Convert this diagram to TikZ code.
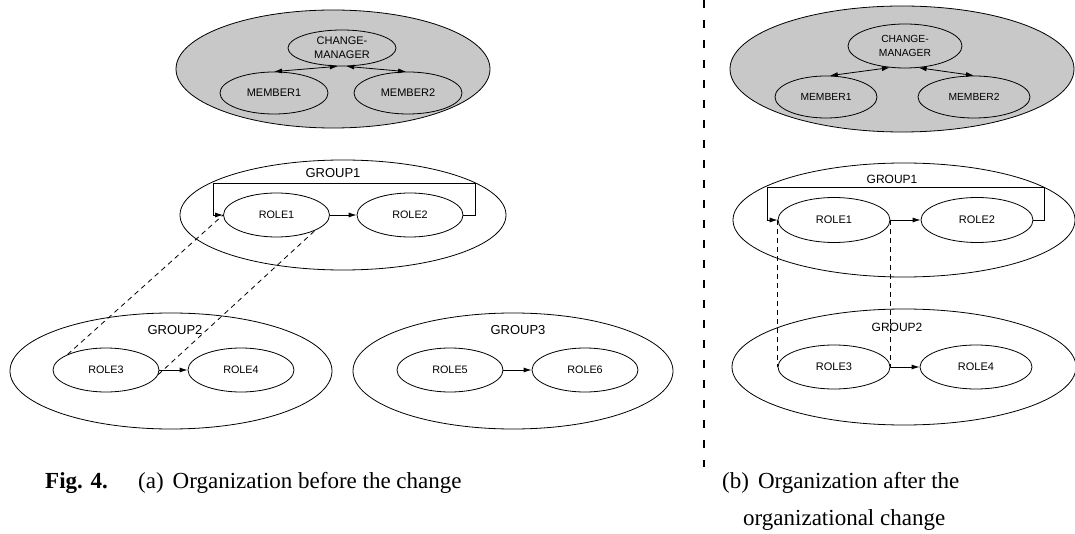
\documentclass[tikz,border=0pt]{standalone}
\usepackage{fontspec}
\setmainfont{Liberation Serif}
\newfontfamily\diag{Liberation Sans}
\usetikzlibrary{shapes.geometric,arrows.meta}
\definecolor{grpfill}{RGB}{200,200,200}
\tikzset{
  el/.style={draw, ellipse, inner sep=0pt, line width=0.8pt, align=center},
  gray el/.style={el, fill=grpfill},
  role/.style={el, minimum width=106pt, minimum height=44pt, font=\diag\fontsize{10.8}{12}\selectfont},
  roleR/.style={el, minimum width=112pt, minimum height=44pt, font=\diag\fontsize{11}{12}\selectfont},
  grp/.style={el},
  glabL/.style={font=\diag\fontsize{13}{15}\selectfont, inner sep=0pt},
  glabR/.style={font=\diag\fontsize{12}{14}\selectfont, inner sep=0pt},
  arr/.style={line width=0.8pt, -{Latex[length=8pt,width=5pt]}},
  darr/.style={line width=0.8pt, {Latex[length=8pt,width=5pt]}-{Latex[length=8pt,width=5pt]}},
  dline/.style={line width=0.8pt, dash pattern=on 5pt off 4pt},
  divider/.style={line width=1.8pt, dash pattern=on 8pt off 12pt},
  captext/.style={font=\fontsize{23}{27}\selectfont, inner sep=0pt, anchor=base west}
}
\begin{document}
\begin{tikzpicture}[x=1pt,y=-1pt]
\useasboundingbox (0,0) rectangle (1075,534);

% ================= LEFT PANEL =================
\node[gray el, minimum width=314pt, minimum height=118pt] (grayL) at (333,69) {};
\node[el, minimum width=108pt, minimum height=36pt, font=\diag\fontsize{11}{14}\selectfont] (cmL) at (342,48) {CHANGE-\\MANAGER};
\node[el, minimum width=108pt, minimum height=42pt, font=\diag\fontsize{11}{12}\selectfont] (m1L) at (274,93) {MEMBER1};
\node[el, minimum width=108pt, minimum height=42pt, font=\diag\fontsize{11}{12}\selectfont] (m2L) at (408,93) {MEMBER2};
\draw[darr] (cmL.-103) -- (m1L.north);
\draw[darr] (cmL.-77) -- (m2L.95);

% GROUP1
\node[grp, minimum width=326pt, minimum height=110pt] (g1L) at (343,215) {};
\node[glabL] (g1Llab) at (333,173) {GROUP1};
\node[role] (r1L) at (276.5,215) {ROLE1};
\node[role] (r2L) at (410,215) {ROLE2};
\draw[arr] (r1L) -- (r2L);
\coordinate (bLa) at (475,183);
\coordinate (bLb) at (213,183);
\draw[arr] (r2L.east) -| (bLa) -- (bLb) |- (r1L.west);

% GROUP2
\node[grp, minimum width=322pt, minimum height=116pt] (g2L) at (171,371) {};
\node[glabL] (g2Llab) at (175,330) {GROUP2};
\node[role] (r3L) at (106,370) {ROLE3};
\node[role] (r4L) at (241,370) {ROLE4};
\draw[arr] (r3L) -- (r4L);

% GROUP3
\node[grp, minimum width=320pt, minimum height=116pt] (g3L) at (513,371) {};
\node[glabL] (g3Llab) at (518,330) {GROUP3};
\node[role] (r5L) at (450,370) {ROLE5};
\node[role] (r6L) at (585,370) {ROLE6};
\draw[arr] (r5L) -- (r6L);

% dashed links
\draw[dline] (r3L.158) -- (r1L.west);
\draw[dline] (r3L.-5) -- (r1L.-22);

% divider
\coordinate (divT) at (704,0);
\coordinate (divB) at (704,467);
\draw[divider] (divT) -- (divB);

% ================= RIGHT PANEL =================
\node[gray el, minimum width=344pt, minimum height=126pt] (grayR) at (902,69) {};
\node[el, minimum width=114pt, minimum height=44pt, font=\diag\fontsize{10.3}{13.5}\selectfont] (cmR) at (905,46) {CHANGE-\\MANAGER};
\node[el, minimum width=102pt, minimum height=42pt, font=\diag\fontsize{10.3}{12}\selectfont] (m1R) at (826,97) {MEMBER1};
\node[el, minimum width=112pt, minimum height=42pt, font=\diag\fontsize{10.3}{12}\selectfont] (m2R) at (974,97) {MEMBER2};
\draw[darr] (cmR.-125) -- (m1R.80);
\draw[darr] (cmR.-58) -- (m2R.north);

% GROUP1
\node[grp, minimum width=342pt, minimum height=114pt] (g1R) at (904,220) {};
\node[glabR] (g1Rlab) at (892,179) {GROUP1};
\node[roleR, minimum height=45pt] (r1R) at (834,220) {ROLE1};
\node[roleR, minimum height=45pt] (r2R) at (977,220) {ROLE2};
\draw[arr] (r1R) -- (r2R);
\coordinate (bRa) at (1044,187);
\coordinate (bRb) at (767,187);
\draw[arr] (r2R.east) -| (bRa) -- (bRb) |- (r1R.west);

% GROUP2
\node[grp, minimum width=344pt, minimum height=116pt] (g2R) at (904,367) {};
\node[glabR] (g2Rlab) at (897,327) {GROUP2};
\node[roleR] (r3R) at (834,367) {ROLE3};
\node[roleR] (r4R) at (976,367) {ROLE4};
\draw[arr] (r3R) -- (r4R);

% vertical dashed links
\draw[dline] (r1R.west) -- (r3R.west);
\draw[dline] (r1R.east) -- (r3R.east);

% ================= CAPTIONS =================
\node[captext] (fig) at (45,488) {\bfseries Fig. 4.};
\node[captext] (capa) at (138,488) {(a)\hspace{9pt}Organization before the change};
\node[captext] (capb1) at (722,488) {(b)\hspace{9pt}Organization after the};
\node[captext] (capb2) at (743,525) {organizational change};
\end{tikzpicture}
\end{document}
